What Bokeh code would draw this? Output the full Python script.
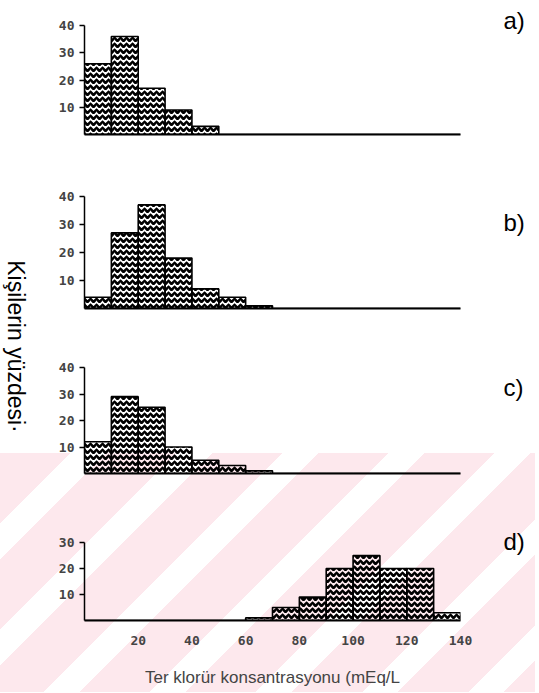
import math
from bokeh.plotting import figure
from bokeh.models import FixedTicker, Range1d
from bokeh.layouts import row, column
from bokeh.embed import file_html
from bokeh.resources import INLINE
from bokeh.core.properties import value

# ---- data (percent of persons per 10 mEq/L sweat chloride bin) ----
bin_lo = [0, 10, 20, 30, 40, 50, 60, 70, 80, 90, 100, 110, 120, 130]
bin_hi = [10, 20, 30, 40, 50, 60, 70, 80, 90, 100, 110, 120, 130, 140]
pct_a = [26, 36, 17, 9, 3, 0, 0, 0, 0, 0, 0, 0, 0, 0]
pct_b = [4, 27, 37, 18, 7, 4, 1, 0, 0, 0, 0, 0, 0, 0]
pct_c = [12, 29, 25, 10, 5, 3, 1, 0, 0, 0, 0, 0, 0, 0]
pct_d = [0, 0, 0, 0, 0, 0, 1, 5, 9, 20, 25, 20, 20, 3]
x_ticks = [20, 40, 60, 80, 100, 120, 140]
y_ticks_abc = [10, 20, 30, 40]
y_ticks_d = [10, 20, 30]
panel_names = ["a)", "b)", "c)", "d)"]
y_title = "Kişilerin yüzdesi·"
x_title = "Ter klorür konsantrasyonu (mEq/L"

TICK_FONT = "DejaVu Sans Mono"
TOTAL_H = 692

# panel layout: (figure height, bottom border, y-axis top, visible y range top)
panel_specs = [
    (165, 31, 40, 49.2),
    (175, 32, 40, 51.07),
    (165, 32, 40, 50.19),
    (187, 72, 30, 44.23),
]
# vertical screen position (from the layout top) of each panel letter
name_screen_y = [20, 222, 387, 541]


def make_panel(vals, spec, yticks, last=False):
    h, bottom, ymax, yview = spec
    p = figure(width=445, height=h, x_range=Range1d(0, 140), y_range=Range1d(0, yview),
               output_backend="svg", toolbar_location=None,
               min_border_left=54, min_border_right=15,
               min_border_top=0, min_border_bottom=bottom)
    p.border_fill_color = None
    p.background_fill_color = None
    p.outline_line_color = None
    p.grid.visible = False

    p.quad(left=bin_lo, right=bin_hi, bottom=0, top=vals,
           fill_color=None, line_color="black", line_width=1.6,
           hatch_pattern="horizontal_wave", hatch_color="black",
           hatch_weight=2.6, hatch_scale=6)

    ya = p.yaxis[0]
    ya.bounds = (0, ymax)
    ya.ticker = FixedTicker(ticks=yticks)
    ya.axis_line_width = 1.5
    ya.major_tick_out = 5
    ya.major_tick_in = 0
    ya.minor_tick_out = 0
    ya.minor_tick_in = 0
    ya.major_tick_line_width = 1.5
    ya.major_label_standoff = 5
    ya.major_label_text_font = TICK_FONT
    ya.major_label_text_font_style = "bold"
    ya.major_label_text_font_size = "13px"

    xa = p.xaxis[0]
    xa.axis_line_width = 2
    xa.major_tick_out = 0
    xa.major_tick_in = 0
    xa.minor_tick_out = 0
    xa.minor_tick_in = 0
    if last:
        xa.ticker = FixedTicker(ticks=x_ticks)
        xa.major_label_standoff = 15
        xa.major_label_text_font = TICK_FONT
        xa.major_label_text_font_style = "bold"
        xa.major_label_text_font_size = "13px"
        xa.axis_label = x_title
        xa.axis_label_standoff = 20
        xa.axis_label_text_font = "Liberation Sans"
        xa.axis_label_text_font_style = "normal"
        xa.axis_label_text_font_size = "17px"
    else:
        xa.ticker = FixedTicker(ticks=[])
        xa.major_label_standoff = 0
    return p


pa = make_panel(pct_a, panel_specs[0], y_ticks_abc)
pb = make_panel(pct_b, panel_specs[1], y_ticks_abc)
pc = make_panel(pct_c, panel_specs[2], y_ticks_abc)
pd = make_panel(pct_d, panel_specs[3], y_ticks_d, last=True)


def blank_fig(w, xr, yr):
    f = figure(width=w, height=TOTAL_H, x_range=Range1d(*xr), y_range=Range1d(*yr),
               output_backend="svg", toolbar_location=None,
               x_axis_type=None, y_axis_type=None, min_border=0)
    f.border_fill_color = None
    f.background_fill_color = None
    f.outline_line_color = None
    f.grid.visible = False
    return f


# left strip: vertical y-axis title
tf = blank_fig(30, (0, 1), (0, 1))
tf.text(x=[0.52], y=[0.5], text=[y_title], angle=-math.pi / 2,
        text_align="center", text_baseline="middle",
        text_font=value("Liberation Sans"), text_font_size="23px", text_color="black")

# right strip: panel letters
lf = blank_fig(60, (0, 60), (0, TOTAL_H))
lf.text(x=[28] * 4, y=[TOTAL_H - s for s in name_screen_y], text=panel_names,
        text_align="left", text_baseline="middle",
        text_font=value("Liberation Sans"), text_font_size="24px", text_color="black")

layout = row(tf, column(pa, pb, pc, pd), lf,
             styles={
                 "background-image": "repeating-linear-gradient(135deg, #fde8ed 0px, #fde8ed 50px, #ffffff 50px, #ffffff 75px)",
                 "background-size": "100% 239px",
                 "background-position": "left bottom",
                 "background-repeat": "no-repeat",
             })

open("out.html", "w").write(file_html(layout, INLINE))
